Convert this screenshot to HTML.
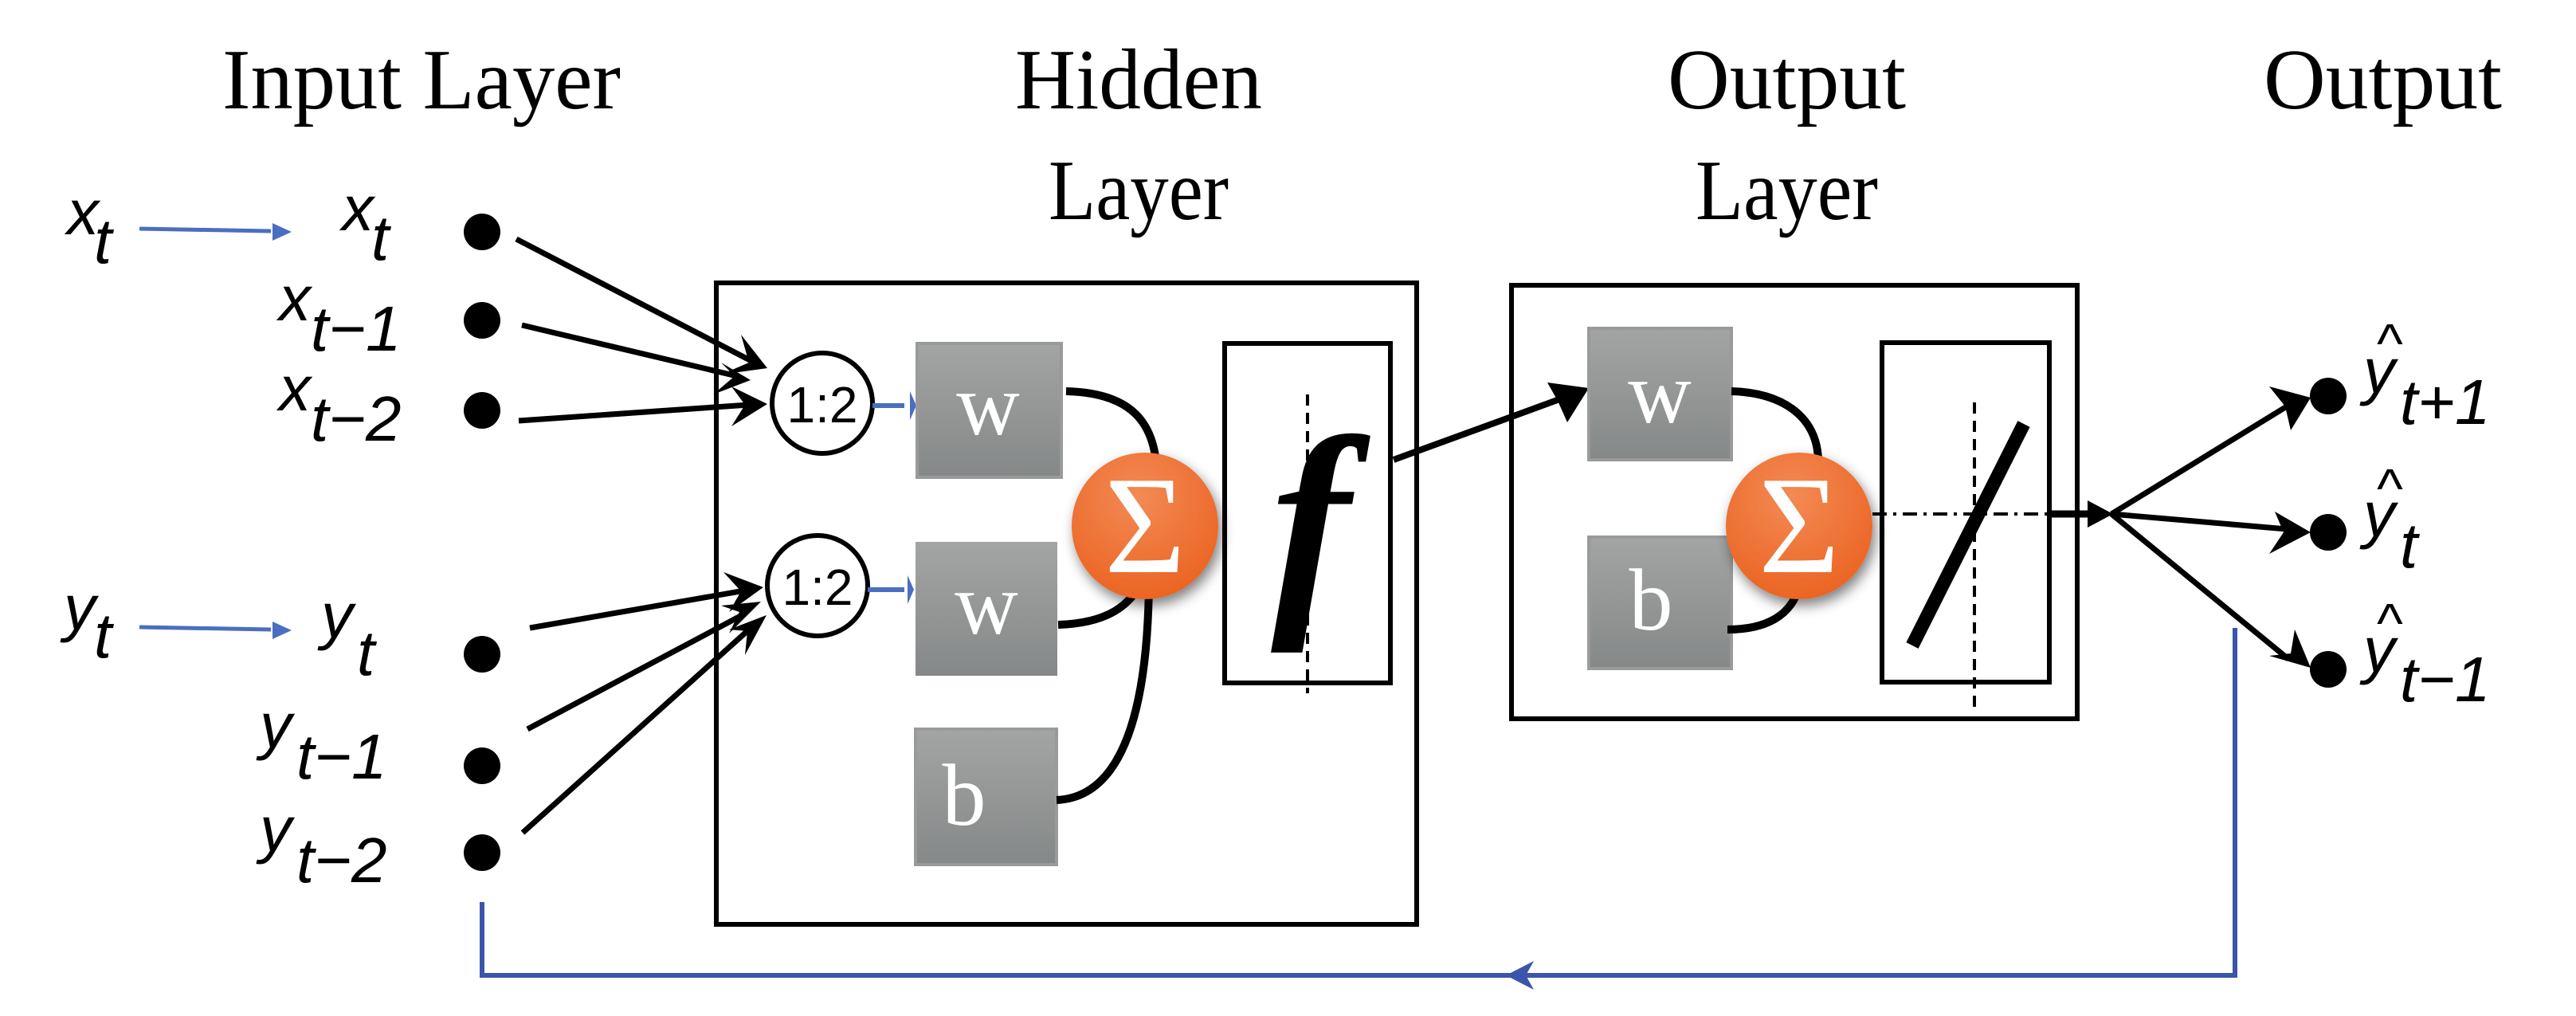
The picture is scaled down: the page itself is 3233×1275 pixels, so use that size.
<!DOCTYPE html>
<html><head><meta charset="utf-8"><style>
html,body{margin:0;padding:0;background:#fff}
svg{display:block}
.t{font-family:"Liberation Serif",serif;font-size:108px;fill:#000}
.m{font-family:"Liberation Sans",sans-serif;font-style:italic;font-size:80px;fill:#000}
.wt{font-family:"Liberation Serif",serif;font-size:110px;fill:#fff}
</style></head><body>
<svg width="3233" height="1275" viewBox="0 0 3233 1275" xmlns="http://www.w3.org/2000/svg">
<defs>
<linearGradient id="g" x1="0" y1="0" x2="0" y2="1"><stop offset="0" stop-color="#a3a5a4"/><stop offset="1" stop-color="#858888"/></linearGradient>
<radialGradient id="o" cx="0.45" cy="0.3" r="0.8"><stop offset="0" stop-color="#f38a55"/><stop offset="1" stop-color="#ea5f1c"/></radialGradient>
<filter id="sh" x="-30%" y="-30%" width="160%" height="160%"><feGaussianBlur in="SourceAlpha" stdDeviation="8"/><feOffset dx="4" dy="8"/><feComponentTransfer><feFuncA type="linear" slope="0.5"/></feComponentTransfer><feMerge><feMergeNode/><feMergeNode in="SourceGraphic"/></feMerge></filter>
</defs>

<!-- titles -->
<text class="t" x="279" y="136" textLength="500" lengthAdjust="spacingAndGlyphs">Input  Layer</text>
<text class="t" x="1274" y="136" textLength="310" lengthAdjust="spacingAndGlyphs">Hidden</text>
<text class="t" x="1316" y="275" textLength="226" lengthAdjust="spacingAndGlyphs">Layer</text>
<text class="t" x="2093" y="136" textLength="299" lengthAdjust="spacingAndGlyphs">Output</text>
<text class="t" x="2128" y="275" textLength="229" lengthAdjust="spacingAndGlyphs">Layer</text>
<text class="t" x="2841" y="136" textLength="299" lengthAdjust="spacingAndGlyphs">Output</text>

<!-- left labels -->
<text class="m" x="84" y="294">x</text><text class="m" x="118" y="330">t</text>
<text class="m" x="80" y="790">y</text><text class="m" x="118" y="825">t</text>
<line x1="175" y1="287" x2="340" y2="290" stroke="#4a6fc0" stroke-width="5"/>
<polygon points="366,291 342,280 342,302" fill="#4a6fc0"/>
<line x1="175" y1="787" x2="340" y2="790" stroke="#4a6fc0" stroke-width="5"/>
<polygon points="366,791 342,780 342,802" fill="#4a6fc0"/>

<!-- right input labels -->
<text class="m" x="429" y="289">x</text><text class="m" x="466" y="326">t</text>
<text class="m" x="350" y="402">x</text><text class="m" x="390" y="440">t−1</text>
<text class="m" x="350" y="515">x</text><text class="m" x="390" y="553">t−2</text>
<text class="m" x="403" y="800">y</text><text class="m" x="448" y="847">t</text>
<text class="m" x="326" y="938">y</text><text class="m" x="372" y="977">t−1</text>
<text class="m" x="326" y="1068">y</text><text class="m" x="372" y="1107">t−2</text>

<!-- input dots -->
<g fill="#000">
<circle cx="605" cy="291" r="23"/><circle cx="605" cy="402" r="23"/><circle cx="605" cy="515" r="23"/>
<circle cx="605" cy="821" r="23"/><circle cx="605" cy="961" r="23"/><circle cx="605" cy="1070" r="23"/>
</g>

<!-- input lines -->
<g stroke="#000" stroke-width="7" fill="none">
<line x1="648" y1="300" x2="945" y2="454"/>
<line x1="655" y1="408" x2="925" y2="472"/>
<line x1="651" y1="528" x2="940" y2="508"/>
<line x1="665" y1="788" x2="935" y2="741"/>
<line x1="662" y1="915" x2="935" y2="770"/>
<line x1="656" y1="1045" x2="940" y2="790"/>
</g>
<g fill="#000">
<polygon points="963,462 930,420 940,455 905,470"/>
<polygon points="942,477 905,455 922,472 895,495"/>
<polygon points="963,507 918,485 935,508 918,535"/>
<polygon points="958,737 908,718 930,742 915,768"/>
<polygon points="955,755 905,760 928,768 915,795"/>
<polygon points="962,772 915,790 938,792 935,822"/>
</g>

<!-- hidden box -->
<rect x="899" y="355" width="879" height="805" fill="none" stroke="#000" stroke-width="6"/>
<circle cx="1032" cy="506" r="63" fill="#fff" stroke="#000" stroke-width="6"/>
<circle cx="1026" cy="735" r="63" fill="#fff" stroke="#000" stroke-width="6"/>
<text x="1032" y="530" font-family="Liberation Sans,sans-serif" font-size="64" text-anchor="middle">1:2</text>
<text x="1026" y="759" font-family="Liberation Sans,sans-serif" font-size="64" text-anchor="middle">1:2</text>
<line x1="1095" y1="509" x2="1135" y2="509" stroke="#4a6fc0" stroke-width="6"/>
<polygon points="1150,509 1142,491 1142,527" fill="#4a6fc0"/>
<line x1="1089" y1="740" x2="1135" y2="740" stroke="#4a6fc0" stroke-width="6"/>
<polygon points="1147,740 1139,722 1139,758" fill="#4a6fc0"/>

<rect x="1151" y="431" width="181" height="168" fill="url(#g)" stroke="#999b9b" stroke-width="4"/>
<rect x="1149" y="680" width="178" height="168" fill="url(#g)"/>
<rect x="1149" y="915" width="177" height="170" fill="url(#g)" stroke="#999b9b" stroke-width="4"/>
<text class="wt" x="1240" y="545" text-anchor="middle">w</text>
<text class="wt" x="1238" y="795" text-anchor="middle">w</text>
<text class="wt" x="1210" y="1035" text-anchor="middle">b</text>

<g stroke="#000" stroke-width="10" fill="none">
<path d="M1338,491 C1420,493 1452,530 1452,600"/>
<path d="M1328,784 C1390,782 1420,760 1435,725"/>
<path d="M1326,1004 C1420,1000 1442,860 1442,720"/>
</g>
<circle cx="1437" cy="660" r="92" fill="url(#o)" filter="url(#sh)"/>
<text x="1437" y="718" font-family="Liberation Serif,serif" font-size="175" fill="#fff" text-anchor="middle">Σ</text>

<rect x="1537" y="431" width="208" height="426" fill="none" stroke="#000" stroke-width="6"/>
<line x1="1641" y1="495" x2="1641" y2="870" stroke="#000" stroke-width="4" stroke-dasharray="14,9"/>
<text x="1645" y="755" font-family="Liberation Serif,serif" font-style="italic" font-weight="bold" font-size="300" text-anchor="middle">f</text>

<line x1="1749" y1="577" x2="1960" y2="500" stroke="#000" stroke-width="8"/>
<polygon points="1994,487 1942,480 1955,503 1967,530" fill="#000"/>

<!-- output box -->
<rect x="1897" y="358" width="710" height="544" fill="none" stroke="#000" stroke-width="6"/>
<rect x="1994" y="412" width="179" height="165" fill="url(#g)" stroke="#999b9b" stroke-width="4"/>
<rect x="1994" y="674" width="179" height="165" fill="url(#g)" stroke="#999b9b" stroke-width="4"/>
<text class="wt" x="2083" y="530" text-anchor="middle">w</text>
<text class="wt" x="2072" y="790" text-anchor="middle">b</text>
<g stroke="#000" stroke-width="10" fill="none">
<path d="M2173,491 C2240,493 2282,525 2282,580"/>
<path d="M2168,790 C2220,790 2245,770 2255,745"/>
</g>
<circle cx="2258" cy="660" r="92" fill="url(#o)" filter="url(#sh)"/>
<text x="2258" y="718" font-family="Liberation Serif,serif" font-size="175" fill="#fff" text-anchor="middle">Σ</text>

<rect x="2362" y="430" width="210" height="426" fill="none" stroke="#000" stroke-width="6"/>
<line x1="2478" y1="505" x2="2478" y2="892" stroke="#000" stroke-width="4" stroke-dasharray="14,9"/>
<line x1="2350" y1="645" x2="2570" y2="645" stroke="#000" stroke-width="4" stroke-dasharray="18,8,4,8"/>
<line x1="2400" y1="810" x2="2540" y2="532" stroke="#000" stroke-width="17"/>
<line x1="2570" y1="645" x2="2625" y2="645" stroke="#000" stroke-width="9"/>
<polygon points="2652,645 2620,628 2620,662" fill="#000"/>

<g stroke="#000" stroke-width="7">
<line x1="2650" y1="645" x2="2870" y2="510"/>
<line x1="2650" y1="645" x2="2870" y2="664"/>
<line x1="2650" y1="645" x2="2872" y2="827"/>
</g>
<g fill="#000">
<polygon points="2900,499 2848,485 2868,510 2875,540"/>
<polygon points="2900,668 2855,642 2866,668 2848,695"/>
<polygon points="2900,838 2880,790 2875,820 2848,823"/>
<circle cx="2922" cy="497" r="23"/><circle cx="2922" cy="668" r="23"/><circle cx="2922" cy="840" r="23"/>
</g>
<text class="m" x="2966" y="493">y</text><text class="m" x="3012" y="532">t+1</text>
<text class="m" x="2966" y="673">y</text><text class="m" x="3012" y="712">t</text>
<text class="m" x="2966" y="843">y</text><text class="m" x="3012" y="880">t−1</text>
<g font-family="Liberation Sans,sans-serif" font-size="70" fill="#000">
<text x="2983" y="455">^</text><text x="2983" y="637">^</text><text x="2983" y="806">^</text>
</g>

<!-- feedback -->
<polyline points="2805,788 2805,1224 605,1224 605,1132" fill="none" stroke="#3a55ab" stroke-width="6"/>
<polygon points="1890,1224 1925,1206 1915,1224 1925,1242" fill="#3a55ab"/>
</svg>
</body></html>
